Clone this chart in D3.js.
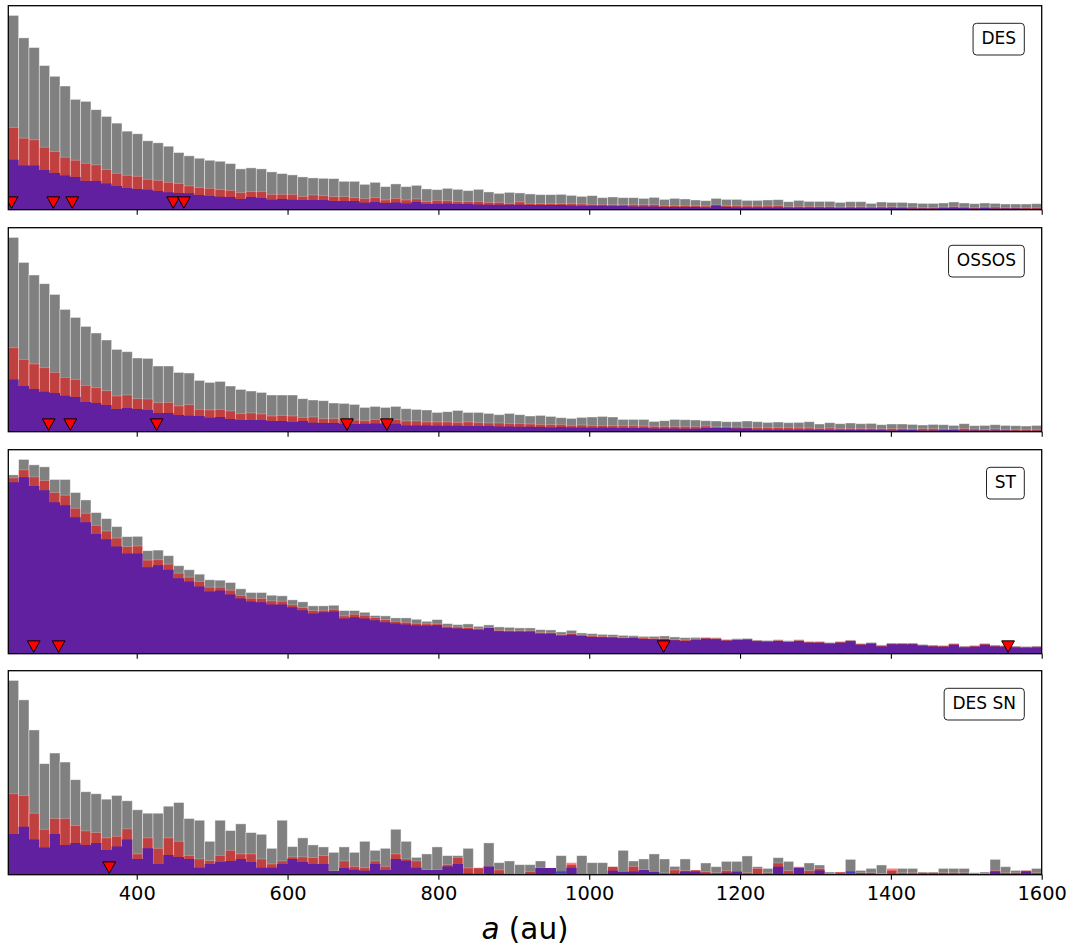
<!DOCTYPE html>
<html><head><meta charset="utf-8">
<script src="https://cdn.jsdelivr.net/npm/d3@7"></script>
<style>body{margin:0;background:#fff} svg{display:block;font-family:"DejaVu Sans",sans-serif}</style>
</head><body><svg id="c" width="1073" height="950"></svg>
<script>
// ---------------- data ----------------
const surveys = ["DES", "OSSOS", "ST", "DES SN"];
const xTicks = [400, 600, 800, 1000, 1200, 1400, 1600];
const aMin = 229.7, aMax = 1600, nBins = 100;

// DES
const desAll = [193.7,171.3,161.7,143.7,133,123.3,110,108,99.7,93,86.3,78.3,75.7,68.7,66.7,63.3,57,53.7,51.3,49.3,48.3,46,40.7,41.7,40.7,37.7,36,34.7,32.7,31.7,31.3,31,28.3,28.3,
 25.3,27.3,23,25.7,23,24.3,20.7,20,21.3,20.3,19,20.3,17.7,16.3,17.3,16.7,15.7,15,15,15.3,14.3,13.3,14,12,12.7,12,12,11.3,12.3,10.3,11.3,10.7,9.7,
 9,11.3,10.3,10.3,9.3,9.3,9.7,10,8,9.3,8.3,8.3,8.3,7.3,8,8,6.3,7.7,7.3,7.3,6.7,6.3,6.3,6.7,7.7,6.7,6,6.7,6.3,5.7,5.7,5.7,6];
const desRed = [82,71.3,69.7,62.3,58,52.3,49.3,46.3,44.7,40,36.3,34.3,33.3,30.3,29.3,27.3,26,23.7,22,21.3,20,19.3,17,18,18,15.3,15.3,15.3,13.3,14.7,14,13,13,12,
 11,12,9.7,11.3,9.7,10.7,8,9.3,9,8,8,8.3,7.3,7.3,6.3,7.7,6.3,6,6,6,6,5.7,5.3,5.3,5,5,5,5,5,4.3,4.3,4.3,4,
 3.7,4.7,4,4,3.7,3.7,3.7,4,3,3.3,3.3,3,3,2.7,3,3,2.7,3,3,2.7,2.7,2.3,2.3,2.7,3,2.7,2.3,2.7,2.7,2.3,2.3,2.3,2.3];
const desBlue = [49.7,44,44,39.7,36.7,34,32.7,28.7,28.7,26,23.7,21.7,20.7,20,18.7,17.3,16.7,16.3,14.7,13.7,13,12.7,10.7,12.7,11.7,10,10.7,10,9.7,9.7,9.7,8.7,8.7,8.7,
 7,7.7,6.7,7.3,6.3,7.7,5.7,6,6.3,5.7,5.7,5.3,5,5,5,5,4.7,4.7,4.7,4.7,4.3,4,4,4,3.7,3.7,3.3,3.3,3.3,2.7,2.7,2.7,2.7,
 2.3,4.3,2.7,2.3,2.3,2.3,2.3,2.3,2,2,2,2,2,1.7,1.7,1.7,1.7,1.7,1.7,1.7,1.3,1.3,1.3,1.7,2,1.7,1.3,1.7,1.3,1.3,1.3,1,1];
const desDetected = [234, 289.4, 314.5, 448.4, 462.5];

// OSSOS
const ossosAll = [194.3,169.3,156.7,148,137.3,122.3,114.3,105.3,98.7,91.7,82.3,80,73.7,73.3,65.7,65.7,59.3,58.7,51.3,49.3,50.3,45.7,42.3,40.7,39.3,36.7,36.7,36.7,33,31.7,31,28.7,28.3,27.3,
 24.3,25.3,24.3,25.3,23,22.3,21.7,19.3,20,21.3,19.3,19.3,18.3,17,18.3,17,15.7,16.3,15.3,14,13.3,14.3,14.7,15.3,14.7,12.3,12.3,12.3,10.3,11,12.3,12,11.7,
 11,10.7,10,10,10.7,10,9.3,9.7,9,9.3,10,7.7,9,8,8.7,8,8.3,7,7.7,7.7,7.3,6.7,7.3,7,6.3,8,6,6.3,7,6.3,6,5.7,6.3];
const ossosRed = [84,72.3,67.7,64,59.3,54.3,52.3,46.3,44,41,35.7,36.7,33,32.7,29,29.3,25.7,27,22.3,21.7,22.3,20.7,18,18.7,17.7,15.7,16.3,15.7,14.3,14.7,13,13,12.3,11.7,
 11,12.3,12.7,12.3,10.7,10.7,9.7,9.7,9.7,9.3,9.7,9,8.7,8.7,8.3,8.3,7.7,7.3,7,7.3,6.3,6.7,6.3,6.3,6,6,6,5.7,5.3,5.3,5.3,5,5,
 5.7,4.7,4.7,4.7,4,4,4,4,4,3.7,3.7,3.3,3.7,3.3,3.3,3.3,3.3,3,3,3,2.7,3,3,2.7,2.7,3.3,2.7,2.3,2.7,2.3,2.3,2.3,2.3];
const ossosBlue = [52.3,45.7,42.7,40,38.7,36,34.7,29.7,28.7,26.7,22.7,23.7,22.7,21.7,18.7,18.7,16.7,16,15.7,14,14.7,12.7,11.7,11.7,11.7,10.7,10.7,9.7,10.7,9,8.7,8.7,8,7.7,
 8,8.3,8.3,8,6.3,6.3,6.3,6,6,6,5.7,5.7,5.7,5.3,5.3,5,5,4.7,4.3,4.7,4.3,4.3,4,4.3,4,3.7,3.7,3.7,3.3,3.3,3.3,3,3,
 3.7,3.7,3.7,3.3,3.3,2,2,2,2,2,2,2,1.7,1.7,1.7,1.7,1.7,1.7,1.3,1.7,1.7,1.3,1.3,1.7,1.7,1.3,1.3,1.3,1.3,1.3,1,1,1];
const ossosDetected = [283.2, 311.9, 426.4, 678.8, 731.7];

// ST
const stAll = [178.3,193.7,188.3,186.3,173.7,173.7,160.7,153.3,140.7,134.7,126.7,116.7,117,102.7,103.3,97.7,87.7,83.7,79.3,73.7,73.3,71,64.7,61,61,58.3,57.7,53.7,51.7,47.7,47.7,48.3,43,43,
 41.3,38,37.7,35.7,35.7,34.3,32.3,34,30,29,29.7,27.3,28.7,26.7,26.3,25.7,25.7,24,23.7,21.7,23.3,20.7,20,19.3,19,18.3,18,17.3,17.3,17.7,16.7,16,16.3,
 16.3,16,14.3,15,15.3,13.7,13.3,14,13,14,12.3,12.3,11.3,12.3,13.7,10.3,11.3,8.7,10.7,10.7,10.7,9.3,8.7,8.3,10.3,7.7,8.3,10.3,8.7,8.3,7.7,7.3,7.7];
const stRed = [175.3,183.3,176.3,172.7,160.7,158,145,140,128,122.3,115.3,106.7,107.3,93.3,93.7,89.3,80.3,76.3,72,66.3,66.3,63.3,58,55.3,55,52.7,52.3,48.7,46,43,43.3,44.3,37.7,39.3,
 38.3,36,34,32.3,31.3,30.3,29.7,29.7,27.3,26.7,26,25,26.3,23.3,23,23,23,21,21,19,20,18.7,17.7,17.3,17,16.3,16.7,15.7,15.3,15,14,13.7,14.7,
 15.7,15.3,13.7,14.3,14.7,13,12.7,13.3,12.3,13.3,11.7,11.7,10.7,11.7,13,9.7,10.7,8,10,10,10,8.7,8,7.7,9.7,7,7.7,9.7,8,7.7,7,6.7,7];
const stBlue = [171,176,167.3,163,151,148,136,131,119.3,114,107,100,100,86.3,88.3,83.7,75.3,72,67,62,63,59,55,52,51.3,49,49,46.3,43.3,40,41.3,42,35,36.3,
 35,33.3,31.3,30,29,28,28,28.3,25.7,25,24.7,23.7,25.7,22.3,22,22,22,20,20,18,19,17.7,16.7,16.3,16,15.3,15.7,14.7,14.3,14.3,13.3,12.7,13.7,
 15,14.3,13,13.7,14,12.3,12,12.7,11.7,12.7,11,11,10,11,12.3,9,10,7.3,9.3,9.3,9.3,8,7.3,7,9,6.3,7,9,7.3,7,6.3,6,6.3];
const stDetected = [263.4, 296.4, 1098.6, 1555.4];

// DES SN
const desSnAll = [193.7,174.3,144.3,110.7,121.3,112.3,94.7,82.7,80.7,75.3,79,73.7,64.7,61.3,61.3,68.3,72,56,54.3,33.3,54.3,44,50.7,42,40.3,26.3,54.3,28,36.7,29.7,27.7,22.3,27.7,22.3,
 33.3,24.3,26.3,45.3,33.3,17.3,20.7,27.7,19,19,26.3,6.7,31.7,12,13.7,10,10,13.7,6.7,19,10,19,12,12,8,24.3,13.7,15.7,20.7,15.7,8.3,15.7,4.7,
 11.7,8,13.3,13.3,18.7,8,6.3,17,13.3,6.3,11.7,9.7,2.7,2.7,15.3,4.3,6.3,9.7,4.3,6.3,6.3,2.7,2.7,6.3,6.3,6.3,2,2.7,15.3,8,4.3,4.3,6.3];
const desSnRed = [80.7,79,61.3,45.3,56,56,49,43.7,42,36.7,38.3,45.7,20.7,36.7,26.3,36.7,33.3,19,15.7,14,19.3,24.3,20.7,20.7,15.7,10.7,13.7,17.7,17.7,17,19,3.7,13.7,8.3,
 7,13.7,8.3,20.7,15.7,13.7,4.7,4.7,10,17.3,6.7,7,8.3,4.7,1,0,3.3,6.7,6.7,1,12,1,0,0,8,3,8.3,4.7,3,1.7,4.7,4,4.7,
 3,2,4.3,3.3,2,6.3,2,11.7,4,8,4,6.3,1,2.7,1,2,2,1,6.3,2,2,2,2,2,2,2,1,1,4.3,2,2,4.3,2];
const desSnBlue = [40.7,47.7,35,27,40.7,29.7,31.7,29.7,31.7,24.7,28,35,15.7,26.3,10.7,19.7,17.7,15.7,7,10.7,12.7,13.7,15.7,12.7,7,7,10.7,15.7,12.7,10.7,10.7,3.7,6.7,5,
 4,10.7,4.7,15.7,14,7,4.7,4.7,8.3,10.7,1.3,1,8.3,1,1,0,1,6.7,6.7,3.3,7,1,0,0,4,3,3.3,4.7,3,1,1.3,3.3,3.3,
 1.3,1,2,3.3,0,1,0,8,1,7,1,4.3,0,0,3.3,1,1,0,1,0,0.7,1,1,1,1,1,0.7,0.7,3.3,1,1,3.3,1];
const desSnDetected = [363.5];

const panels = [
  {name: surveys[0], all: desAll, red: desRed, blue: desBlue, det: desDetected},
  {name: surveys[1], all: ossosAll, red: ossosRed, blue: ossosBlue, det: ossosDetected},
  {name: surveys[2], all: stAll, red: stRed, blue: stBlue, det: stDetected},
  {name: surveys[3], all: desSnAll, red: desSnRed, blue: desSnBlue, det: desSnDetected}
];

// ---------------- layout ----------------
const svg = d3.select("#c");
const L = 8.3, R = 1041.7, panelH = 204;
const tops = [5.7, 227.7, 449.7, 670.7];
const x = d3.scaleLinear().domain([aMin, aMax]).range([L, R]);
const edges = d3.range(nBins + 1).map(i => aMin + i * (aMax - aMin) / nBins);
const defs = svg.append("defs");

panels.forEach((p, i) => {
  const top = tops[i], bot = top + panelH;
  const y = d3.scaleLinear().domain([0, d3.max(p.all) * 1.05]).range([bot, top]);
  const clipId = "clip" + i;
  defs.append("clipPath").attr("id", clipId).append("rect")
    .attr("x", L).attr("y", top).attr("width", R - L).attr("height", panelH);
  const g = svg.append("g");
  const pg = g.append("g").attr("clip-path", `url(#${clipId})`);

  const layer = (rows, fill, op, stroke, strokeOp) => pg.append("g")
    .selectAll("rect").data(rows.filter(d => d.hi > d.lo)).join("rect")
    .attr("x", d => x(edges[d.j]))
    .attr("width", d => x(edges[d.j + 1]) - x(edges[d.j]))
    .attr("y", d => y(d.hi))
    .attr("height", d => y(d.lo) - y(d.hi))
    .attr("fill", fill).attr("fill-opacity", op)
    .attr("stroke", stroke).attr("stroke-opacity", strokeOp).attr("stroke-width", 0.8);

  layer(p.all.map((v, j) => ({j, lo: 0, hi: v})), "#808080", 1, "#fff", 0.5);
  layer(p.red.map((v, j) => ({j, lo: 0, hi: v})), "#ff0000", 0.5, "#fff", 0.3);

  // overlap of both subsets (blue over red) -> one seamless purple step area
  const both = p.blue.map((v, j) => Math.min(v, p.red[j]));
  const stepPts = edges.map((e, j) => [e, both[Math.min(j, nBins - 1)]]);
  pg.append("path").datum(stepPts)
    .attr("d", d3.area().curve(d3.curveStepAfter).x(d => x(d[0])).y0(y(0)).y1(d => y(d[1])))
    .attr("fill", "#6020a0");

  // blue exceeding red
  layer(p.blue.map((v, j) => ({j, lo: p.red[j], hi: v})), "#0000ff", 0.5, "none", 0);

  const my = y(y.domain()[1] * 0.035);
  pg.append("g").selectAll("path").data(p.det).join("path")
    .attr("d", "M-6.4,-5.7L6.4,-5.7L0,5.7Z")
    .attr("transform", d => `translate(${x(d)},${my})`)
    .attr("fill", "#ff0000").attr("stroke", "#000").attr("stroke-width", 1);

  const ax = d3.axisBottom(x).tickValues(xTicks).tickSize(5).tickPadding(6.5)
    .tickFormat(i === panels.length - 1 ? d3.format("d") : () => "");
  const axg = g.append("g").attr("transform", `translate(0,${bot})`).call(ax)
    .attr("font-family", "DejaVu Sans").attr("font-size", "19.4px");
  axg.select(".domain").remove();
  axg.selectAll(".tick line").attr("stroke", "#000").attr("stroke-width", 1.1);
  axg.selectAll(".tick text").attr("fill", "#000");

  g.append("rect").attr("x", L).attr("y", top).attr("width", R - L).attr("height", panelH)
    .attr("fill", "none").attr("stroke", "#000").attr("stroke-width", 1.3);

  const lg = g.append("g");
  const t = lg.append("text").attr("x", R - 17.4 - 8.3).attr("y", top + 38.6)
    .attr("text-anchor", "end").attr("font-size", "17px").attr("fill", "#000").text(p.name);
  const tw = t.node().getComputedTextLength();
  lg.insert("rect", "text").attr("x", R - 17.4 - tw - 16.6).attr("y", top + 17.6)
    .attr("width", tw + 16.6).attr("height", 31.7).attr("rx", 3.5)
    .attr("fill", "#fff").attr("fill-opacity", 0.8).attr("stroke", "#222").attr("stroke-width", 1);
});

const xl = svg.append("text").attr("x", (L + R) / 2).attr("y", 938.5)
  .attr("text-anchor", "middle").attr("font-size", "29.5px").attr("fill", "#000");
xl.append("tspan").attr("font-style", "italic").text("a");
xl.append("tspan").text(" (au)");
</script></body></html>
